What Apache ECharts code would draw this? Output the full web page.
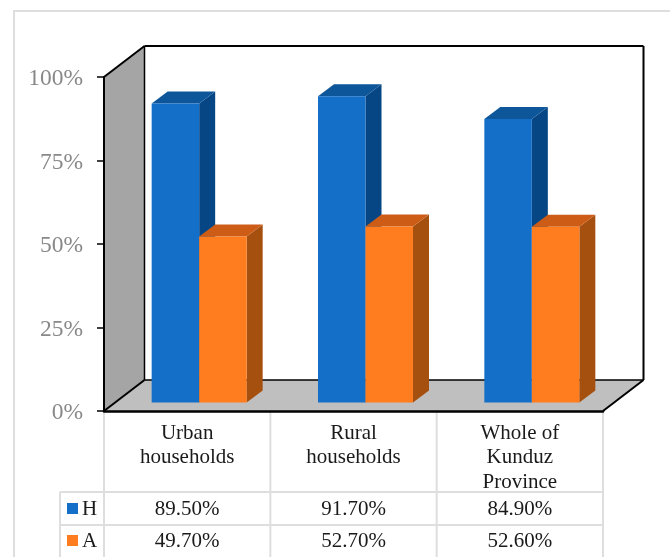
<!DOCTYPE html>
<html>
<head>
<meta charset="utf-8">
<style>html,body{margin:0;padding:0;background:#fff}#chart{width:670px;height:557px}</style>
<script src="https://cdn.jsdelivr.net/npm/echarts@6/dist/echarts.min.js"></script>
</head>
<body>
<div id="chart"></div>
<script>
// Household shares by area, shown as pseudo-3D columns above a data table
const categories = ['Urban\nhouseholds', 'Rural\nhouseholds', 'Whole of\nKunduz\nProvince'];
const seriesH = [89.5, 91.7, 84.9];
const seriesA = [49.7, 52.7, 52.6];
const yTicks = [0, 25, 50, 75, 100];

const SERIF = '"Liberation Serif", "Times New Roman", serif';
const RULE = '#dedede';
const WALL_DX = 40.5, WALL_DY = 31;   // depth of the chart box
const BAR_W = 47.5, BAR_DX = 16, BAR_DY = 12;  // column width and depth
const BAR_LIFT = 8.5;                 // gap between box front edge and column base
const ROW1 = 492, ROW2 = 525, TABLE_LEFT = 60;

const poly = (pts, fill, stroke, lw) => ({
  type: 'polygon',
  shape: { points: pts },
  style: { fill: fill, stroke: stroke || null, lineWidth: lw || 0 }
});
const seg = (x1, y1, x2, y2, color, lw) => ({
  type: 'line',
  shape: { x1, y1, x2, y2 },
  style: { stroke: color, lineWidth: lw }
});

// Back wall, side wall and floor of the box
function renderBox(params, api) {
  const c = params.coordSys;
  const l = c.x, r = c.x + c.width, t = c.y, b = c.y + c.height;
  const dx = WALL_DX, dy = WALL_DY;
  return { type: 'group', children: [
    poly([[l + dx, t - dy], [r + dx, t - dy], [r + dx, b - dy], [l + dx, b - dy]], '#ffffff'),
    poly([[l, t], [l + dx, t - dy], [l + dx, b - dy], [l, b]], '#a5a5a5'),
    poly([[l, b], [l + dx, b - dy], [r + dx, b - dy], [r, b]], '#bfbfbf'),
    seg(l + dx, t - dy, r + dx, t - dy, '#000', 2),
    seg(r + dx, t - dy, r + dx, b - dy, '#000', 2),
    seg(l + dx, t - dy, l + dx, b - dy, '#000', 1.5),
    seg(l + dx, b - dy, r + dx, b - dy, '#000', 1.5),
    seg(l, t, l + dx, t - dy, '#000', 2),
    seg(l, b, l + dx, b - dy, '#000', 2),
    seg(r, b, r + dx, b - dy, '#000', 2)
  ] };
}

// One column: front, side and top faces, placed from its category and value
function columnRenderer(offset, front, side, top) {
  return function (params, api) {
    const p = api.coord([api.value(0), api.value(1)]);
    const x0 = p[0] + offset, x1 = x0 + BAR_W;
    const yTop = p[1] - BAR_LIFT;
    const yBase = api.coord([api.value(0), 0])[1] - BAR_LIFT;
    return { type: 'group', children: [
      poly([[x1, yTop], [x1 + BAR_DX, yTop - BAR_DY], [x1 + BAR_DX, yBase - BAR_DY], [x1, yBase]], side),
      poly([[x0, yTop], [x0 + BAR_DX, yTop - BAR_DY], [x1 + BAR_DX, yTop - BAR_DY], [x1, yTop]], top),
      poly([[x0, yTop], [x1, yTop], [x1, yBase], [x0, yBase]], front)
    ] };
  };
}

// Data table rules, legend keys and value cells under the axis
const cell = (x, y, text, align) => ({
  type: 'text',
  style: { x, y, text, font: '21px ' + SERIF, fill: '#1a1a1a', align: align || 'center', verticalAlign: 'middle' }
});
function renderTable(params, api) {
  const c = params.coordSys;
  const l = c.x, r = c.x + c.width, b = c.y + c.height, end = 557;
  const step = c.width / categories.length;
  const kids = [
    seg(TABLE_LEFT, ROW1, r, ROW1, RULE, 2),
    seg(TABLE_LEFT, ROW2, r, ROW2, RULE, 2),
    seg(TABLE_LEFT, ROW1, TABLE_LEFT, end, RULE, 2),
    { type: 'rect', shape: { x: 67, y: 503, width: 11, height: 11 }, style: { fill: '#146fc8' } },
    { type: 'rect', shape: { x: 67, y: 535, width: 11, height: 11 }, style: { fill: '#ff7c1f' } },
    cell(82, 509, 'H', 'left'),
    cell(82, 541, 'A', 'left')
  ];
  for (let i = 0; i <= categories.length; i++) {
    const x = l + step * i;
    kids.push(seg(x, b + 1, x, end, RULE, 2));
  }
  categories.forEach((_, i) => {
    const x = api.coord([i, 0])[0];
    kids.push(cell(x, 509, seriesH[i].toFixed(2) + '%'));
    kids.push(cell(x, 541, seriesA[i].toFixed(2) + '%'));
  });
  return { type: 'group', children: kids };
}

const chart = echarts.init(document.getElementById('chart'), null, { renderer: 'canvas' });
chart.setOption({
  animation: false,
  backgroundColor: '#ffffff',
  graphic: [{
    type: 'rect', z: -10, silent: true,
    shape: { x: 14, y: 11, width: 670, height: 560 },
    style: { fill: '#ffffff', stroke: RULE, lineWidth: 2 }
  }],
  grid: { left: 104, right: 67, top: 77, bottom: 146 },
  xAxis: {
    type: 'category',
    data: categories,
    z: 5,
    axisLine: { show: true, lineStyle: { color: '#000', width: 2.5 } },
    axisTick: { show: false },
    axisLabel: {
      interval: 0, margin: 10, lineHeight: 24.5,
      fontFamily: SERIF, fontSize: 21, color: '#1a1a1a',
      verticalAlign: 'top'
    }
  },
  yAxis: {
    type: 'value',
    min: 0, max: 100, interval: 25,
    z: 5,
    splitLine: { show: false },
    axisLine: { show: true, lineStyle: { color: '#000', width: 2 } },
    axisTick: { show: true, length: 7, lineStyle: { color: '#000', width: 1.5 } },
    axisLabel: {
      margin: 21, fontFamily: SERIF, fontSize: 23.5, color: '#898989',
      verticalAlign: 'top', lineHeight: 4,
      formatter: v => (yTicks.includes(v) ? v + '%' : '')
    }
  },
  series: [
    { type: 'custom', name: 'box', clip: false, z: 1, silent: true, data: [[0, 0]], renderItem: renderBox },
    { type: 'custom', name: 'H', clip: false, z: 2, data: seriesH.map((v, i) => [i, v]),
      renderItem: columnRenderer(-35.5, '#146fc8', '#064685', '#0d5699') },
    { type: 'custom', name: 'A', clip: false, z: 3, data: seriesA.map((v, i) => [i, v]),
      renderItem: columnRenderer(12, '#ff7c1f', '#a65010', '#cc5c16') },
    { type: 'custom', name: 'table', clip: false, z: 4, silent: true, data: [[0, 0]], renderItem: renderTable }
  ]
});
</script>
</body>
</html>
